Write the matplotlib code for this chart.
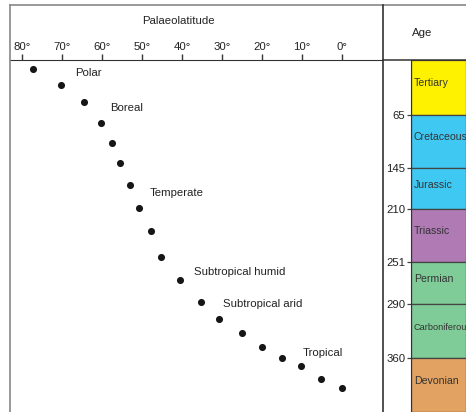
import matplotlib
matplotlib.use("Agg")
import matplotlib.pyplot as plt
from matplotlib.lines import Line2D

plt.rcParams['font.family'] = ['Liberation Sans', 'DejaVu Sans']

# Palaeolatitude (degrees) and stratigraphic position (chart units, downward)
latitudes = [77.25, 70.25, 64.5, 60.25, 57.5, 55.5, 53, 50.75, 47.75, 45.25,
             40.5, 35.25, 30.75, 25, 20, 15, 10.25, 5.25, 0]
positions = [9, 25, 42, 63, 83, 103, 125, 148, 171, 197,
             220, 242, 259, 273, 287, 298, 306, 319, 328]

lat_ticks = [80, 70, 60, 50, 40, 30, 20, 10, 0]
lat_tick_labels = ["80°", "70°", "60°", "50°", "40°", "30°", "20°", "10°", "0°"]

zone_names = ["Polar", "Boreal", "Temperate", "Subtropical humid", "Subtropical arid", "Tropical"]
zone_lat = [66.75, 58, 48, 37, 29.75, 9.75]
zone_pos = [13, 48, 133, 212, 244, 293]

periods = ["Tertiary", "Cretaceous", "Jurassic", "Triassic", "Permian", "Carboniferous", "Devonian"]
period_colors = ["#fff200", "#3fc8f2", "#3fc8f2", "#b07ab5", "#7fcc98", "#7fcc98", "#e2a262"]
boundary_pos = [0, 55, 108, 149, 202, 244, 298, 352]
boundary_ages = ["65", "145", "210", "251", "290", "360"]

W, H = 466, 412
fig = plt.figure(figsize=(W / 100, H / 100), dpi=100)

def fx(px):
    return px / W

def fy(py):
    return 1 - py / H

# main plot axes
ax = fig.add_axes([fx(10), 0, fx(383) - fx(10), fy(60)])
ax.scatter(latitudes, positions, s=26, color="#161616", zorder=3, linewidths=0)
ax.set_xlim((342 - 10) / 4, (342 - 383) / 4)
ax.set_ylim(352, 0)
ax.xaxis.tick_top()
ax.set_xticks(lat_ticks)
ax.set_xticklabels(lat_tick_labels, fontsize=8.2, color="#222222")
ax.tick_params(axis='x', direction='out', length=4, width=1, color="#333333", pad=2)
ax.set_yticks([])
for s in ['left', 'right', 'bottom']:
    ax.spines[s].set_visible(False)
ax.spines['top'].set_color("#333333")
for name, la, po in zip(zone_names, zone_lat, zone_pos):
    ax.text(la, po, name, ha='left', va='center', fontsize=8.2, color="#222222")

# age column axes
ax2 = fig.add_axes([fx(411), 0, 1 - fx(411), fy(60)])
tops = boundary_pos[:-1]
heights = [b - a for a, b in zip(boundary_pos[:-1], boundary_pos[1:])]
ax2.bar([0.5] * len(periods), heights, bottom=tops, width=1.0, color=period_colors,
        edgecolor="#444444", linewidth=0.9, align='center')
ax2.set_xlim(0, 1)
ax2.set_ylim(352, 0)
ax2.set_xticks([])
ax2.set_yticks(boundary_pos[1:-1])
ax2.set_yticklabels(boundary_ages, fontsize=8.2, color="#222222")
ax2.tick_params(axis='y', direction='out', length=3, width=0.9, color="#444444", pad=1)
for s in ['top', 'right', 'bottom']:
    ax2.spines[s].set_visible(False)
ax2.spines['left'].set_color("#333333")
for name, a, b in zip(periods, boundary_pos[:-1], boundary_pos[1:]):
    fs = 6.6 if name == "Carboniferous" else 7.6
    ax2.text(0.05, (a + b) / 2 - 4, name, ha='left', va='center', fontsize=fs,
             color="#333333", clip_on=True)

# frame lines
fig.add_artist(Line2D([fx(10), 1], [fy(5), fy(5)], color="#888888", lw=1.2))
fig.add_artist(Line2D([fx(10), fx(10)], [fy(5), 0], color="#888888", lw=1.2))
fig.add_artist(Line2D([fx(383), fx(383)], [fy(5), 0], color="#222222", lw=1.1))
fig.add_artist(Line2D([fx(383), 1], [fy(60), fy(60)], color="#333333", lw=1.1))

fig.text(fx(178), fy(21), "Palaeolatitude", ha='center', va='center', fontsize=8.2, color="#222222")
fig.text(fx(422), fy(33), "Age", ha='center', va='center', fontsize=8.2, color="#222222")

fig.savefig("out.png", dpi=100)
